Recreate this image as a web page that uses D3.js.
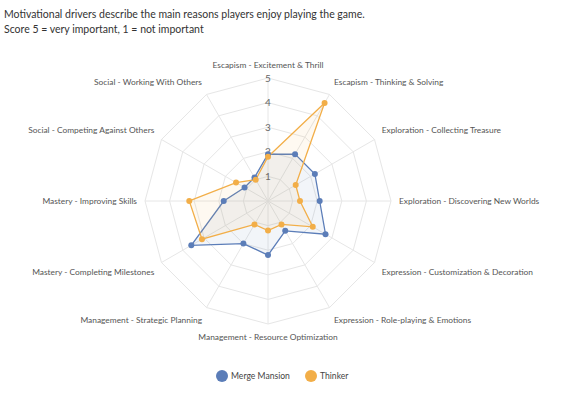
<!DOCTYPE html>
<html><head><meta charset="utf-8">
<script src="https://cdn.jsdelivr.net/npm/d3@7"></script>
<style>body{margin:0;background:#fff;} svg{display:block;}</style>
</head><body>
<svg id="chart" width="571" height="397"></svg>
<script>
const categories = [
  "Escapism - Excitement & Thrill",
  "Escapism - Thinking & Solving",
  "Exploration - Collecting Treasure",
  "Exploration - Discovering New Worlds",
  "Expression - Customization & Decoration",
  "Expression - Role-playing & Emotions",
  "Management - Resource Optimization",
  "Management - Strategic Planning",
  "Mastery - Completing Milestones",
  "Mastery - Improving Skills",
  "Social - Competing Against Others",
  "Social - Working With Others"
];
const mergeMansion = [1.9, 2.2, 2.2, 2.1, 2.7, 1.4, 2.2, 2.0, 3.6, 1.8, 1.1, 1.1];
const thinker      = [1.8, 4.6, 1.3, 1.3, 2.1, 1.1, 1.2, 1.1, 3.1, 3.2, 1.5, 1.0];
const seriesNames = ["Merge Mansion", "Thinker"];
const levelTicks = [1, 2, 3, 4, 5];
const titleLines = [
  "Motivational drivers describe the main reasons players enjoy playing the game.",
  "Score 5 = very important, 1 = not important"
];

const colors = ["#5b7db8", "#f2ae48"];
const font = "Lato, 'Open Sans', sans-serif";
const svg = d3.select("#chart");
const cx = 268, cy = 201, R = 123;
const r = d3.scaleLinear().domain([0, 5]).range([0, R]);
const angle = d3.scaleBand().domain(categories).range([0, 2 * Math.PI]).align(0).paddingInner(0).paddingOuter(0);
const ang = c => angle(c);

// Title
svg.selectAll("text.title").data(titleLines).join("text")
  .attr("x", 4).attr("y", (d, i) => 18 + i * 15)
  .attr("font-family", font).attr("font-size", 10.5).attr("fill", "#333")
  .text(d => d);

const g = svg.append("g").attr("transform", `translate(${cx},${cy})`);

// grid rings
levelTicks.forEach(l => {
  g.append("path")
    .attr("d", d3.lineRadial().angle(d => ang(d)).radius(() => r(l)).curve(d3.curveLinearClosed)(categories))
    .attr("fill", "none").attr("stroke", "#e6e6e6").attr("stroke-width", 1);
});
// spokes
g.selectAll("line.spoke").data(categories).join("line")
  .attr("x1", 0).attr("y1", 0)
  .attr("x2", d => r(5) * Math.sin(ang(d)))
  .attr("y2", d => -r(5) * Math.cos(ang(d)))
  .attr("stroke", "#e6e6e6").attr("stroke-width", 1);

// level labels
g.selectAll("text.lvl").data(levelTicks).join("text")
  .attr("x", 0).attr("y", d => -r(d))
  .attr("text-anchor", "middle").attr("dy", "0.35em")
  .attr("font-family", font).attr("font-size", 10).attr("fill", "#666")
  .text(d => d);

// axis labels
const LR = 133;
g.selectAll("text.axis").data(categories).join("text")
  .attr("x", d => (LR - 2 * Math.abs(Math.sin(ang(d)))) * Math.sin(ang(d)))
  .attr("y", d => {
    const c = Math.cos(ang(d)), s = Math.sin(ang(d));
    const sg = Math.abs(c) < 0.01 ? 0 : Math.sign(c);
    return -(136 * c + 4 * s * s * sg);
  })
  .attr("dy", "0.35em")
  .attr("text-anchor", d => { const s = Math.sin(ang(d)); return s > 0.01 ? "start" : (s < -0.01 ? "end" : "middle"); })
  .attr("font-family", font).attr("font-size", 8.4).attr("fill", "#555")
  .text(d => d);

// series
const series = [mergeMansion, thinker];
const areaLine = d3.lineRadial().angle((d, i) => ang(categories[i])).radius(d => r(d)).curve(d3.curveLinearClosed);
series.forEach((vals, si) => {
  g.append("path").attr("d", areaLine(vals))
    .attr("fill", colors[si]).attr("fill-opacity", 0.08)
    .attr("stroke", colors[si]).attr("stroke-width", 1.3);
});
series.forEach((vals, si) => {
  g.selectAll(null).data(vals).join("circle")
    .attr("cx", (d, i) => r(d) * Math.sin(ang(categories[i])))
    .attr("cy", (d, i) => -r(d) * Math.cos(ang(categories[i])))
    .attr("r", 3).attr("fill", colors[si]);
});

// legend
const legX = [222, 311];
seriesNames.forEach((n, i) => {
  svg.append("circle").attr("cx", legX[i]).attr("cy", 376).attr("r", 6).attr("fill", colors[i]);
  svg.append("text").attr("x", legX[i] + 9).attr("y", 376).attr("dy", "0.35em")
    .attr("font-family", font).attr("font-size", 8.6).attr("fill", "#444").text(n);
});
</script>
</body></html>
